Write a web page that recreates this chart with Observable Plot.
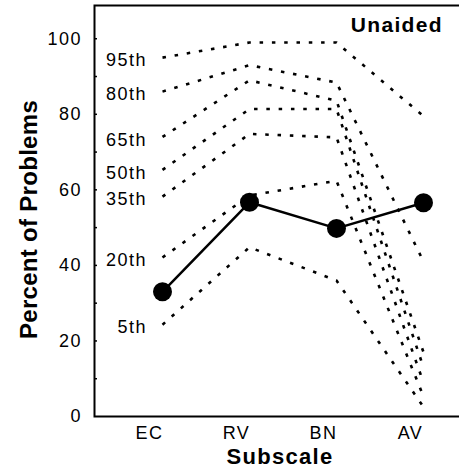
<!DOCTYPE html>
<html>
<head>
<meta charset="utf-8">
<script src="https://cdn.jsdelivr.net/npm/d3@7"></script>
<script src="https://cdn.jsdelivr.net/npm/@observablehq/plot@0.6"></script>
<style>
  html, body { margin: 0; padding: 0; background: #fff; }
  #chart svg text { letter-spacing: 1.5px; }
  #chart svg g[font-weight="bold"] text { letter-spacing: 1.3px; }
  #chart svg g.vtitle text { letter-spacing: 0.3px; }
</style>
</head>
<body>
<div id="chart"></div>
<script>
const subscales = ["EC", "RV", "BN", "AV"];
const meanPct = [33, 56.7, 49.8, 56.6];
const percentileNames = ["95th", "80th", "65th", "50th", "35th", "20th", "5th"];
const p95 = [95, 99, 99, 79.5];
const p80 = [86, 93, 88.4, 41];
const p65 = [74, 89, 83.6, 17];
const p50 = [65.3, 81.4, 81.4, 13];
const p35 = [58.2, 74.8, 73.9, 9];
const p20 = [42.1, 58.5, 62.4, 5.3];
const p05 = [24.3, 44.8, 36, 2.5];
const yTickValues = [0, 20, 40, 60, 80, 100];
const yMinorTickValues = [10, 20, 30, 40, 50, 60, 70, 80, 90, 100];
const yMax = 108.8;

const percentileSeries = [p95, p80, p65, p50, p35, p20, p05];
const pctRows = [];
percentileSeries.forEach((vals, i) => {
  vals.forEach((v, j) => pctRows.push({pct: percentileNames[i], subscale: subscales[j], value: v}));
});
const labelRows = pctRows.filter(d => d.subscale === "EC");
const meanRows = subscales.map((s, j) => ({subscale: s, value: meanPct[j]}));

const font = "'Liberation Sans', Arial, Helvetica, sans-serif";

const chart = Plot.plot({
  width: 459,
  height: 475,
  marginLeft: 94,
  marginRight: -2,
  marginTop: 5,
  marginBottom: 59,
  style: {fontFamily: font, fontSize: "18px", color: "black", background: "white"},
  x: {type: "point", domain: subscales, range: [162, 423], padding: 0},
  y: {domain: [0, yMax]},
  marks: [
    Plot.frame({stroke: "black", strokeWidth: 2}),
    Plot.axisY(yMinorTickValues, {tickSize: 3, dx: 3, tickFormat: () => "", label: null, strokeWidth: 1.5}),
    Plot.axisY(yTickValues, {tickSize: 0, tickPadding: 12.5, label: null, fontSize: 18}),
    Plot.axisX(subscales, {tickSize: 0, tickPadding: 10, dx: -13, label: null, fontSize: 18}),
    Plot.line(pctRows, {x: "subscale", y: "value", z: "pct", stroke: "black", strokeWidth: 2.6, strokeLinecap: "butt", strokeDasharray: "3.5,8.8"}),
    Plot.line(meanRows, {x: "subscale", y: "value", stroke: "black", strokeWidth: 2.5}),
    Plot.dot(meanRows, {x: "subscale", y: "value", r: 9.5, fill: "black"}),
    Plot.text(labelRows, {x: "subscale", y: "value", text: "pct", textAnchor: "end", dx: -15.5, dy: 3, fontSize: 18}),
    Plot.text(["Unaided"], {frameAnchor: "top-right", text: d => d, textAnchor: "end", lineAnchor: "top", dx: -18.7, dy: 11.7, fontSize: 21, fontWeight: "bold"}),
    Plot.text(["Subscale"], {frameAnchor: "bottom", text: d => d, textAnchor: "middle", lineAnchor: "bottom", dx: 2, dy: 47, fontSize: 22, fontWeight: "bold"}),
    Plot.text(["Percent of Problems"], {frameAnchor: "left", text: d => d, rotate: -90, textAnchor: "middle", lineAnchor: "middle", dx: -65, dy: 8.5, fontSize: 24, fontWeight: "bold", className: "vtitle"})
  ]
});
document.getElementById("chart").appendChild(chart);
</script>
</body>
</html>
